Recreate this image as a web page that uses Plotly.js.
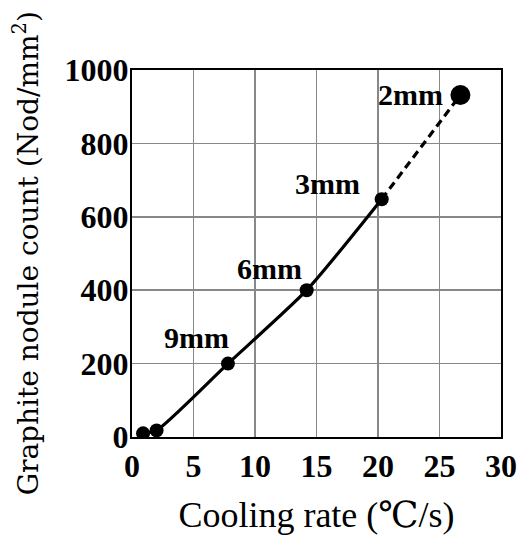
<!DOCTYPE html>
<html><head><meta charset="utf-8">
<script src="https://cdn.plot.ly/plotly-3.0.1.min.js"></script>
<style>html,body{margin:0;padding:0;background:#fff}#chart{width:524px;height:535px}</style>
</head><body><div id="chart"></div>
<script>
// Measured points (solid curve)
const coolingRate = [0.9, 2.0, 7.8, 14.2, 20.3];
const noduleCount = [10, 18, 200, 400, 648];
// Extrapolated (dashed) segment
const extrapRate = [20.3, 26.7];
const extrapCount = [648, 932];
// Section thickness labels
const labelRate = [7.8, 14.2, 20.3, 26.7];
const labelCount = [200, 400, 648, 932];
const labelText = ['9mm', '6mm', '3mm', '2mm'];
const labelShift = [[-31, 26], [-37, 22], [-54, 16], [-50, 0]];
// Axis ticks
const xTicks = [0, 5, 10, 15, 20, 25, 30];
const yTicks = [0, 200, 400, 600, 800, 1000];

const serif = '"Liberation Serif", "DejaVu Serif", serif';
const wideSerif = '"DejaVu Serif", "Liberation Serif", serif';

const traces = [
  {x: extrapRate, y: extrapCount, mode: 'lines', type: 'scatter',
   line: {color: '#000', width: 3.2, dash: '8px,5px'}, hoverinfo: 'skip'},
  {x: coolingRate, y: noduleCount, mode: 'lines+markers', type: 'scatter',
   line: {color: '#000', width: 3.2, shape: 'spline', smoothing: 0.6},
   marker: {color: '#000', size: 14}},
  {x: [extrapRate[1]], y: [extrapCount[1]], mode: 'markers', type: 'scatter',
   marker: {color: '#000', size: 20}}
];

const annotations = labelText.map((t, i) => ({
  x: labelRate[i], y: labelCount[i], text: '<b>' + t + '</b>', showarrow: false,
  xshift: labelShift[i][0], yshift: labelShift[i][1],
  font: {family: serif, size: 30, color: '#000'}
}));
annotations.push({
  xref: 'paper', yref: 'paper', x: -0.285, y: 0.5,
  text: 'Graphite nodule count (Nod/mm<sup>2</sup>)', textangle: -90, showarrow: false,
  xanchor: 'center', yanchor: 'middle',
  font: {family: wideSerif, size: 28, color: '#000'}
});

const layout = {
  width: 524, height: 535,
  margin: {l: 132, r: 23, t: 70, b: 98},
  paper_bgcolor: '#fff', plot_bgcolor: '#fff',
  showlegend: false,
  font: {family: serif, color: '#000'},
  xaxis: {
    range: [0, 30], tickvals: xTicks, ticktext: xTicks.map(v => '<b>' + v + '</b>'),
    showgrid: true, gridcolor: '#888', gridwidth: 1.5,
    showline: true, linecolor: '#000', linewidth: 2, mirror: true,
    ticks: '', zeroline: false,
    tickfont: {family: serif, size: 32, color: '#000'},
    title: {text: 'Cooling rate (℃/s)', font: {family: serif, size: 36, color: '#000'}, standoff: 20}
  },
  yaxis: {
    range: [0, 1000], tickvals: yTicks, ticktext: yTicks.map(v => '<b>' + v + '</b>'),
    showgrid: true, gridcolor: '#888', gridwidth: 1.5,
    showline: true, linecolor: '#000', linewidth: 2, mirror: true,
    ticks: '', zeroline: false, ticklabelstandoff: -5,
    tickfont: {family: serif, size: 32, color: '#000'}
  },
  annotations: annotations
};

Plotly.newPlot('chart', traces, layout, {staticPlot: true, displayModeBar: false});
</script>
</body></html>
